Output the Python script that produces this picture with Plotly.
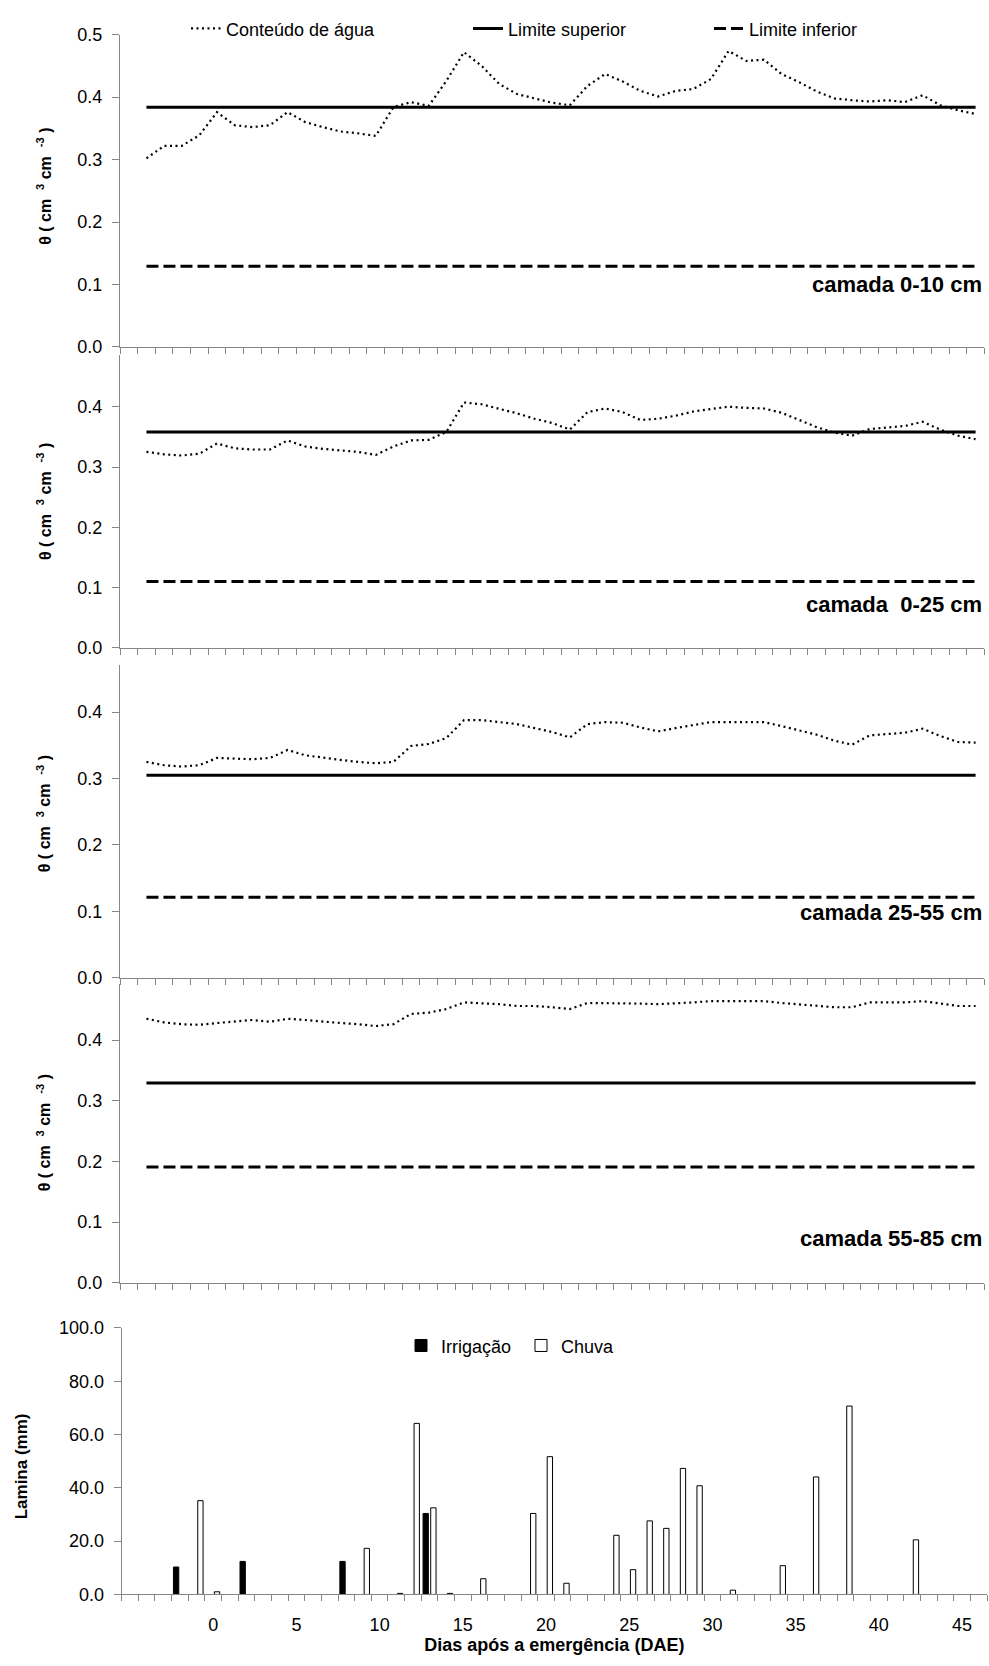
import plotly.graph_objects as go

W, H = 989, 1666

# ---------------- data ----------------
dias_theta = [-4, -3, -2, -1, 0, 1, 2, 3, 4, 5, 6, 7, 8, 9, 10, 11, 12, 13, 14, 15,
              16, 17, 18, 19, 20, 21, 22, 23, 24, 25, 26, 27, 28, 29, 30, 31, 32, 33,
              34, 35, 36, 37, 38, 39, 40, 41, 42, 43]

theta_0_10 = [0.302, 0.322, 0.322, 0.339, 0.376, 0.355, 0.352, 0.355, 0.376, 0.360,
              0.352, 0.345, 0.342, 0.338, 0.384, 0.392, 0.386, 0.426, 0.472, 0.450,
              0.421, 0.405, 0.398, 0.391, 0.387, 0.418, 0.437, 0.425, 0.410, 0.401,
              0.410, 0.413, 0.429, 0.474, 0.458, 0.460, 0.437, 0.424, 0.409, 0.398,
              0.395, 0.393, 0.395, 0.392, 0.403, 0.387, 0.379, 0.373]

theta_0_25 = [0.325, 0.321, 0.319, 0.322, 0.339, 0.331, 0.329, 0.329, 0.344, 0.334,
              0.330, 0.327, 0.325, 0.320, 0.334, 0.344, 0.345, 0.358, 0.407, 0.404,
              0.397, 0.389, 0.380, 0.373, 0.362, 0.391, 0.397, 0.391, 0.378, 0.380,
              0.385, 0.392, 0.396, 0.400, 0.398, 0.397, 0.390, 0.378, 0.366, 0.357,
              0.352, 0.363, 0.366, 0.368, 0.375, 0.362, 0.352, 0.346]

theta_25_55 = [0.325, 0.320, 0.318, 0.320, 0.331, 0.330, 0.329, 0.331, 0.343, 0.335,
               0.331, 0.328, 0.325, 0.323, 0.325, 0.349, 0.352, 0.361, 0.388, 0.388,
               0.385, 0.382, 0.376, 0.370, 0.362, 0.382, 0.385, 0.384, 0.377, 0.371,
               0.376, 0.380, 0.385, 0.385, 0.385, 0.385, 0.379, 0.373, 0.366, 0.357,
               0.351, 0.365, 0.367, 0.369, 0.375, 0.364, 0.355, 0.354]

theta_55_85 = [0.435, 0.429, 0.426, 0.425, 0.428, 0.430, 0.433, 0.430, 0.435, 0.433,
               0.430, 0.428, 0.426, 0.423, 0.426, 0.443, 0.445, 0.451, 0.462, 0.461,
               0.459, 0.456, 0.456, 0.454, 0.451, 0.461, 0.461, 0.460, 0.460, 0.459,
               0.460, 0.462, 0.464, 0.464, 0.464, 0.464, 0.461, 0.459, 0.456, 0.454,
               0.454, 0.462, 0.462, 0.462, 0.464, 0.460, 0.456, 0.456]

limite_superior = [0.384, 0.358, 0.305, 0.329]
limite_inferior = [0.129, 0.110, 0.121, 0.191]
camadas = ["camada 0-10 cm", "camada\u00a0 0-25 cm", "camada 25-55 cm", "camada 55-85 cm"]

dias_irrigacao = [-2, 2, 8, 13]
lamina_irrigacao = [10.3, 12.4, 12.4, 30.4]

dias_chuva = [-1, 0, 9, 11, 12, 13, 14, 16, 19, 20, 21, 24, 25, 26, 27, 28, 29, 31,
              34, 36, 38, 42]
lamina_chuva = [35.2, 1.0, 17.3, 0.4, 64.2, 32.5, 0.4, 5.9, 30.4, 51.7, 4.2, 22.2,
                9.3, 27.6, 24.8, 47.3, 40.8, 1.6, 10.8, 44.1, 70.7, 20.5]

x_tick_labels = [0, 5, 10, 15, 20, 25, 30, 35, 40, 45]

# ---------------- layout helpers ----------------
FONT = "Liberation Sans, Arial, sans-serif"
AXC = "#868686"
NB = "\u00a0"


def px_x(p):
    return p / W


def px_y(p):
    return 1 - p / H


# (top px, bottom px, y max)
panel_geom = [(25, 341, 0.5), (349, 645.7, 0.486), (663, 979.3, 0.471), (986, 1288.3, 0.492)]
title_centers = [179, 498, 814, 1137]
camada_y = [278, 602, 913, 1243]
series = [theta_0_10, theta_0_25, theta_25_55, theta_55_85]

y_title = f"<b>θ ({NB}cm{NB}{NB}<sup>3</sup>{NB}cm{NB}{NB}<sup>-3</sup>{NB})</b>"

fig = go.Figure()
layout = dict(
    width=W, height=H,
    margin=dict(l=0, r=0, t=0, b=0),
    paper_bgcolor="white", plot_bgcolor="white",
    font=dict(family=FONT, size=18, color="black"),
    showlegend=True,
)
annotations = []

x_left, x_right = 120, 984.4
for i, (top, bot, ymax) in enumerate(panel_geom):
    n = i + 1
    xa = "x" if n == 1 else f"x{n}"
    ya = "y" if n == 1 else f"y{n}"
    first = (i == 0)
    fig.add_trace(go.Scatter(
        x=dias_theta, y=series[i], mode="lines", name="Conteúdo de água",
        line=dict(color="black", width=2.2, dash="2px,3.5px"),
        xaxis=xa, yaxis=ya, showlegend=first, legend="legend"))
    fig.add_trace(go.Scatter(
        x=dias_theta, y=[limite_superior[i]] * len(dias_theta), mode="lines",
        name="Limite superior", line=dict(color="black", width=3),
        xaxis=xa, yaxis=ya, showlegend=first, legend="legend2"))
    fig.add_trace(go.Scatter(
        x=dias_theta, y=[limite_inferior[i]] * len(dias_theta), mode="lines",
        name="Limite inferior", line=dict(color="black", width=3, dash="12px,5px"),
        xaxis=xa, yaxis=ya, showlegend=first, legend="legend3"))

    layout["xaxis" if n == 1 else f"xaxis{n}"] = dict(
        domain=[px_x(x_left), px_x(x_right)], anchor=ya,
        range=[dias_theta[0] - 1.5, dias_theta[-1] + 0.5],
        showgrid=False, zeroline=False, showline=True, linecolor=AXC, linewidth=1,
        ticks="outside", tickmode="linear", tick0=-5.5, dtick=1,
        ticklen=6, tickcolor=AXC, showticklabels=False)
    layout["yaxis" if n == 1 else f"yaxis{n}"] = dict(
        domain=[px_y(bot), px_y(top)], anchor=xa, range=[0, ymax],
        showgrid=False, zeroline=False, showline=True, linecolor=AXC, linewidth=1,
        ticks="outside", ticklen=7, tickcolor=AXC, tickmode="linear", tick0=0, dtick=0.1,
        tickformat=".1f", ticklabelstandoff=6,
        tickfont=dict(family=FONT, size=18, color="black"))

    annotations.append(dict(
        text=y_title, xref="paper", yref="paper",
        x=px_x(44), y=px_y(title_centers[i]), textangle=-90, showarrow=False,
        xanchor="center", yanchor="middle", font=dict(family=FONT, size=16, color="black")))
    annotations.append(dict(
        text=f"<b>{camadas[i]}</b>", xref="paper", yref="paper",
        x=px_x(984), y=px_y(camada_y[i]), showarrow=False,
        xanchor="right", yanchor="middle", font=dict(family=FONT, size=22, color="black")))

# ---------------- bar panel ----------------
BW = 0.32
fig.add_trace(go.Bar(
    x=dias_irrigacao, y=lamina_irrigacao, name="Irrigação", width=BW, offset=-0.23 - BW / 2,
    marker=dict(color="black", line=dict(color="black", width=1)),
    xaxis="x5", yaxis="y5", legend="legend4"))
fig.add_trace(go.Bar(
    x=dias_chuva, y=lamina_chuva, name="Chuva", width=BW, offset=0.23 - BW / 2,
    marker=dict(color="white", line=dict(color="black", width=1)),
    xaxis="x5", yaxis="y5", legend="legend5"))

layout["barmode"] = "overlay"
layout["xaxis5"] = dict(
    domain=[px_x(121.7), px_x(987)], anchor="y5", range=[-5.5, 46.5],
    showgrid=False, zeroline=False, showline=True, linecolor=AXC, linewidth=1,
    tickmode="array", tickvals=x_tick_labels, ticktext=[str(v) for v in x_tick_labels],
    ticks="", ticklabelstandoff=14,
    tickfont=dict(family=FONT, size=18, color="black"),
    minor=dict(tickmode="linear", tick0=-5.5, dtick=1, ticks="outside", ticklen=6,
               tickcolor=AXC, showgrid=False),
    title=dict(text="<b>Dias após a emergência (DAE)</b>", standoff=2,
               font=dict(family=FONT, size=18, color="black")))
layout["yaxis5"] = dict(
    domain=[px_y(1603.7), px_y(1334)], anchor="x5", range=[0, 100],
    showgrid=False, zeroline=False, showline=True, linecolor=AXC, linewidth=1,
    ticks="outside", ticklen=7, tickcolor=AXC, tickmode="linear", tick0=0, dtick=20,
    tickformat=".1f", ticklabelstandoff=6,
    tickfont=dict(family=FONT, size=18, color="black"))

annotations.append(dict(
    text="<b>Lamina (mm)</b>", xref="paper", yref="paper",
    x=px_x(21), y=px_y(1474), textangle=-90, showarrow=False,
    xanchor="center", yanchor="middle", font=dict(family=FONT, size=17, color="black")))

# ---------------- legends ----------------
def leg(xpx, ypx):
    return dict(x=px_x(xpx), y=px_y(ypx), xanchor="left", yanchor="middle",
                orientation="h", bgcolor="rgba(0,0,0,0)", borderwidth=0,
                font=dict(family=FONT, size=18, color="black"), itemwidth=30)

layout["legend"] = leg(186, 19)
layout["legend2"] = leg(468, 19)
layout["legend3"] = leg(709, 19)
layout["legend4"] = leg(401, 1352)
layout["legend5"] = leg(521, 1352)
layout["annotations"] = annotations

fig.update_layout(**layout)
fig.write_html("out.html")
